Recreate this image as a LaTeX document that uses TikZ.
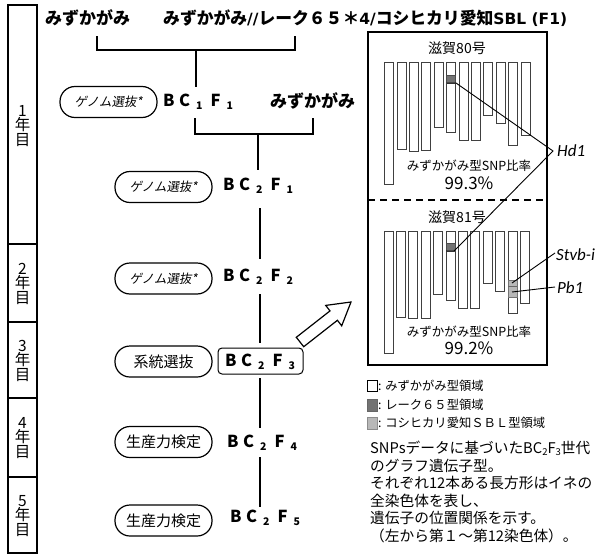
\documentclass[tikz,border=0pt]{standalone}
\usepackage{fontspec}
\setmainfont{Noto Sans CJK JP}
\newfontfamily\cjkslant{Noto Sans CJK JP}[FakeSlant=0.18]
\newfontfamily\genefont{Carlito}
\newfontfamily\vfont{DejaVu Sans}[BoldFont={DejaVu Sans Bold}]
\newcommand{\fsz}[1]{\fontsize{#1}{#1}\selectfont}
\newcommand{\bcfx}[2]{\textbf{B}\hspace{4.5pt}\textbf{C}\hspace{6pt}\raisebox{-3pt}{\fsz{10.5}\textbf{#1}}\hspace{8pt}\textbf{F}\hspace{6pt}\raisebox{-3pt}{\fsz{10.5}\textbf{#2}}}
\newcommand{\vb}[1]{{\vfont\bfseries\fsz{15.5}#1}}
\begin{document}
\begin{tikzpicture}[x=1pt,y=-1pt,
  conn/.style={line width=2.4pt},
  pill/.style={draw,line width=1.2pt,rounded corners=15pt,minimum width=97pt,minimum height=31pt,inner sep=0pt},
  bcf/.style={anchor=west,inner sep=0pt,font=\fsz{16.5}},
  yearlab/.style={align=center,inner sep=0pt,font=\fsz{15.5},text depth=0pt},
  chrom/.style={draw=black!75,fill=white,line width=0.8pt},
  darkreg/.style={fill=black!55,draw=black!70,line width=0.6pt},
  lightreg/.style={fill=black!28,draw=black!55,line width=0.6pt},
  leader/.style={line width=0.9pt},
  gene/.style={anchor=west,inner sep=0pt,font=\genefont\itshape\fsz{17}},
  legtext/.style={anchor=west,inner sep=0pt,font=\fsz{12.3}},
  captext/.style={anchor=west,inner sep=0pt,font=\fsz{14.7}}]
\useasboundingbox (0,0) rectangle (597,554);
\fill[white] (0,0) rectangle (597,554);

% year column
\draw[line width=1.8pt] (8,5) rectangle (37,553);
\foreach \yy in {244,322,398,477} \draw[line width=1.8pt] (8,\yy) -- (37,\yy);
\node[yearlab] (y1) at (22.5,125) {1\\[-1pt]年\\[-1pt]目};
\node[yearlab] (y2) at (22.5,283) {2\\[-1pt]年\\[-1pt]目};
\node[yearlab] (y3) at (22.5,360) {3\\[-1pt]年\\[-1pt]目};
\node[yearlab] (y4) at (22.5,437) {4\\[-1pt]年\\[-1pt]目};
\node[yearlab] (y5) at (22.5,515) {5\\[-1pt]年\\[-1pt]目};

% top titles
\node[anchor=west,inner sep=0pt,font=\bfseries\fsz{17}] (p1) at (45,18) {みずかがみ};
\node[anchor=west,inner sep=0pt,font=\bfseries\fsz{16.8}] (p2) at (163,18) {みずかがみ\vb{//}レーク６５＊\vb{4/}コシヒカリ愛知\vb{SBL (F1)}};

% generations
\node[pill,font=\cjkslant\fsz{12.5}] (s1) at (108.5,102) {ゲノム選抜*};
\node[bcf] (g1) at (163,102) {\bcfx{1}{1}};
\node[anchor=west,inner sep=0pt,font=\bfseries\fsz{17}] (m2) at (270,101) {みずかがみ};

\node[pill,font=\cjkslant\fsz{12.5}] (s2) at (163.5,187) {ゲノム選抜*};
\node[bcf] (g2) at (223,186) {\bcfx{2}{1}};

\node[pill,font=\cjkslant\fsz{12.5}] (s3) at (163.5,278.5) {ゲノム選抜*};
\node[bcf] (g3) at (223,277) {\bcfx{2}{2}};

\node[pill,font=\fsz{15}] (s4) at (163.5,361.5) {系統選抜};
\node[bcf] (g4) at (225,362) {\bcfx{2}{3}};
\draw[line width=1pt,rounded corners=4pt] (218,348) rectangle (303,374);

\node[pill,font=\fsz{15}] (s5) at (163.5,442) {生産力検定};
\node[bcf] (g5) at (227,443) {\bcfx{2}{4}};

\node[pill,font=\fsz{15}] (s6) at (163.5,520.5) {生産力検定};
\node[bcf] (g6) at (230,518) {\bcfx{2}{5}};

% connectors
\coordinate (jA) at (196,50);
\coordinate (jB) at (258,134);
\draw[conn] (97,36) -- (97,50) -- (295,50) -- (295,36);
\draw[conn] (jA) -- (196,87);
\draw[conn] (195,118) -- (195,134) -- (313,134) -- (313,118);
\draw[conn] (jB) -- (258,170);
\draw[conn] (260,208) -- (260,259);
\draw[conn] (260,294) -- (260,343);
\draw[conn] (260,378) -- (260,428);
\draw[conn] (260,457) -- (260,507);

% hollow block arrow
\draw[line width=1.2pt,fill=white,line join=miter]
  (296.3,337.3) -- (330,310.9) -- (325.7,305.4) -- (351,302) -- (341.7,325.8) -- (337.4,320.3) -- (303.7,346.7) -- cycle;

% right panel
\draw[line width=2pt] (368,32) rectangle (547,365);
\draw[line width=2pt,dash pattern=on 7pt off 5pt] (368,200) -- (547,200);

\node[inner sep=0pt,font=\fsz{14}] (t80) at (457,48) {滋賀80号};
\node[inner sep=0pt,font=\fsz{14}] (t81) at (457,217) {滋賀81号};

% chromosomes top
\foreach \i/\b in {0/184,1/149,2/151,3/150,4/127,5/132,6/140,7/140,8/115,9/123,10/145,11/135}{
  \draw[chrom] ({384.5+12.4*\i},62) rectangle ({393.5+12.4*\i},\b);
}
% chromosomes bottom
\foreach \i/\b in {0/353,1/317,2/318,3/318,4/294,5/300,6/308,7/308,8/283,9/291,10/313,11/303}{
  \draw[chrom] ({384+12.4*\i},231) rectangle ({393+12.4*\i},\b);
}
% regions
\draw[darkreg] (446.5,75) rectangle (455.5,83);
\draw[darkreg] (446,243) rectangle (455,251);
\draw[lightreg] (508,280) rectangle (517,297);
\draw[line width=0.6pt,black!60] (508,286) -- (517,286);

\node[inner sep=0pt,font=\fsz{12.5}] (r80) at (469,166) {みずかがみ型SNP比率};
\node[inner sep=0pt,font=\fsz{17}] (v80) at (469,183) {99.3\%};
\node[inner sep=0pt,font=\fsz{12.5}] (r81) at (469,332) {みずかがみ型SNP比率};
\node[inner sep=0pt,font=\fsz{17}] (v81) at (469,348) {99.2\%};

% gene labels and leaders
\node[gene] (hd1) at (557,151) {Hd1};
\node[gene] (stvb) at (556,255) {Stvb-i};
\node[gene] (pb1) at (557,288) {Pb1};
\coordinate (hv) at (553,151);
\draw[leader] (446.5,83) -- (456,83) -- (hv) -- (454,251) -- (446,251);
\draw[leader] (512,283) -- (555,253);
\draw[leader] (512,292) -- (555,287);

% legend
\draw[line width=0.8pt,fill=white] (367,380) rectangle (377,391);
\draw[line width=0.6pt,draw=black!60,fill=black!55] (367,399) rectangle (377,411);
\draw[line width=0.6pt,draw=black!45,fill=black!28] (367,417) rectangle (377,429);
\node[legtext] (l1) at (378,385.5) {: みずかがみ型領域};
\node[legtext] (l2) at (378,405) {: レーク６５型領域};
\node[legtext] (l3) at (378,423) {: コシヒカリ愛知ＳＢＬ型領域};

% caption
\node[captext] (c1) at (370,448) {SNPsデータに基づいたBC\raisebox{-2pt}{\fsz{9.5}2}F\raisebox{-2pt}{\fsz{9.5}3}世代};
\node[captext] (c2) at (370,465.5) {のグラフ遺伝子型。};
\node[captext] (c3) at (370,483) {それぞれ12本ある長方形はイネの};
\node[captext] (c4) at (370,500.5) {全染色体を表し、};
\node[captext] (c5) at (370,518) {遺伝子の位置関係を示す。};
\node[captext] (c6) at (370,535.5) {（左から第１～第12染色体）。};
\end{tikzpicture}
\end{document}
